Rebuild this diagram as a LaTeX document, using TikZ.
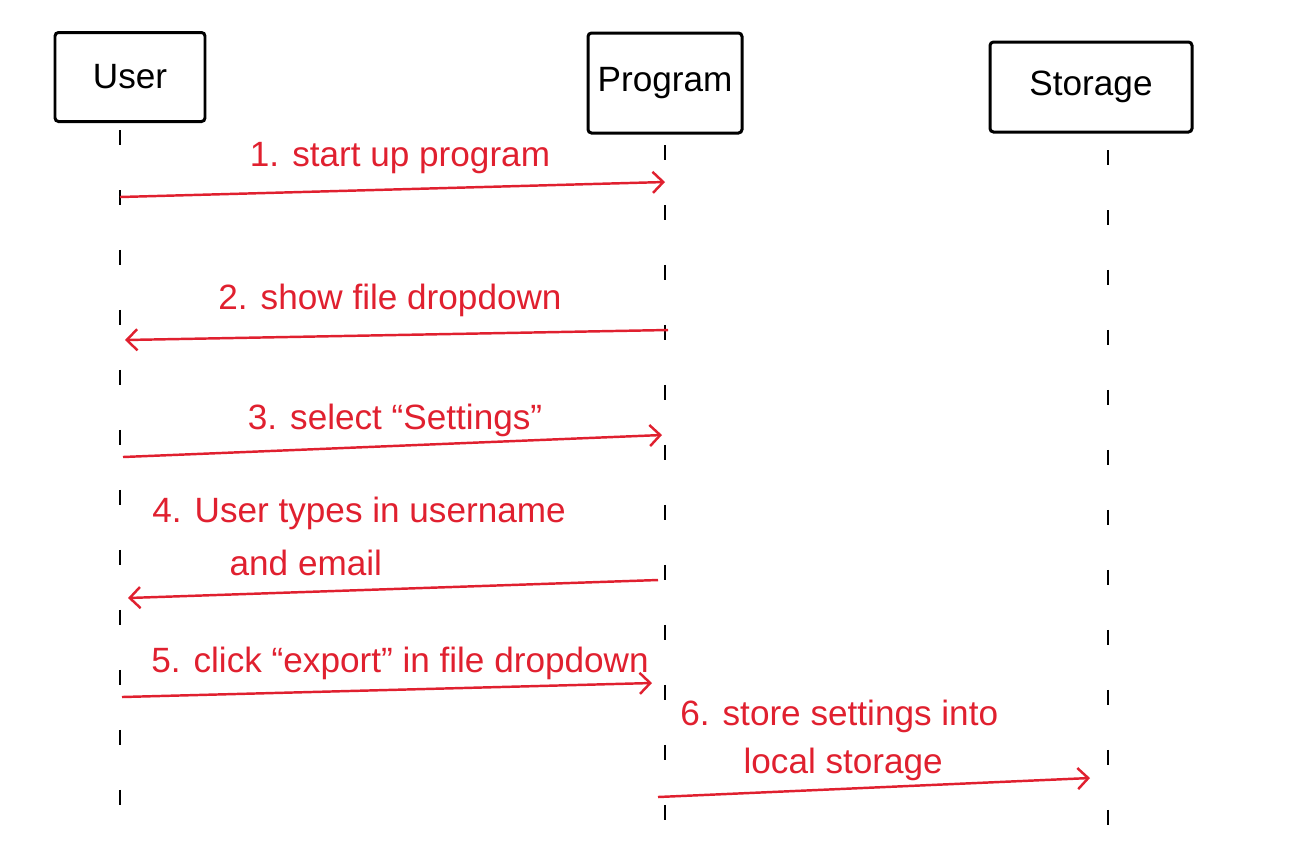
\documentclass[tikz,border=0pt]{standalone}
\usepackage{fontspec}
\setmainfont{Liberation Sans}
\usetikzlibrary{arrows.meta}
\definecolor{inkred}{HTML}{E0202F}
\begin{document}
\begin{tikzpicture}[x=0.02cm,y=-0.02cm,
  actor/.style={draw=black,line width=1.7pt,rounded corners=2pt,inner sep=0pt,font=\fontsize{20}{24}\selectfont},
  life/.style={draw=black,line width=1.4pt,dash pattern=on 0.3cm off 0.9cm},
  msg/.style={draw=inkred,line width=1.4pt,-{Straight Barb[length=6pt,width=12pt,line width=1.4pt]}},
  lbl/.style={text=inkred,font=\fontsize{20}{30}\selectfont,align=left,inner sep=0pt}]
\useasboundingbox (0,0) rectangle (1290,867);
% actors
\node[actor,minimum width=150*0.02cm,minimum height=89*0.02cm] (user) at (130,77) {User};
\node[actor,minimum width=154*0.02cm,minimum height=100*0.02cm] (prog) at (665,83) {Program};
\node[actor,minimum width=202*0.02cm,minimum height=90*0.02cm] (stor) at (1091,87) {Storage};
% lifeline ends
\coordinate (uTop) at (120,130); \coordinate (uBot) at (120,815);
\coordinate (pTop) at (665,145); \coordinate (pBot) at (665,830);
\coordinate (sTop) at (1108,150); \coordinate (sBot) at (1108,845);
\draw[life] (uTop) -- (uBot);
\draw[life] (pTop) -- (pBot);
\draw[life] (sTop) -- (sBot);
% message anchors
\coordinate (m1a) at (120,197); \coordinate (m1b) at (665,182);
\coordinate (m2a) at (668,330); \coordinate (m2b) at (125,340);
\coordinate (m3a) at (123,457); \coordinate (m3b) at (662,435);
\coordinate (m4a) at (658,580); \coordinate (m4b) at (128,598);
\coordinate (m5a) at (122,697); \coordinate (m5b) at (652,683);
\coordinate (m6a) at (658,797); \coordinate (m6b) at (1090,778);
\draw[msg] (m1a) -- (m1b);
\draw[msg] (m2a) -- (m2b);
\draw[msg] (m3a) -- (m3b);
\draw[msg] (m4a) -- (m4b);
\draw[msg] (m5a) -- (m5b);
\draw[msg] (m6a) -- (m6b);
% labels
\node[lbl] (l1) at (400,158) {1. start up program};
\node[lbl] (l2) at (390,300) {2. show file dropdown};
\node[lbl] (l3) at (395,420) {3. select “Settings”};
\node[lbl,anchor=north west] (l4) at (152,497) {4. User types in username\\\hspace*{2.2em}and email};
\node[lbl] (l5) at (400,663) {5. click “export” in file dropdown};
\node[lbl,anchor=north west,font=\fontsize{20}{27}\selectfont] (l6) at (680,700) {6. store settings into\\\hspace*{1.8em}local storage};
\end{tikzpicture}
\end{document}
